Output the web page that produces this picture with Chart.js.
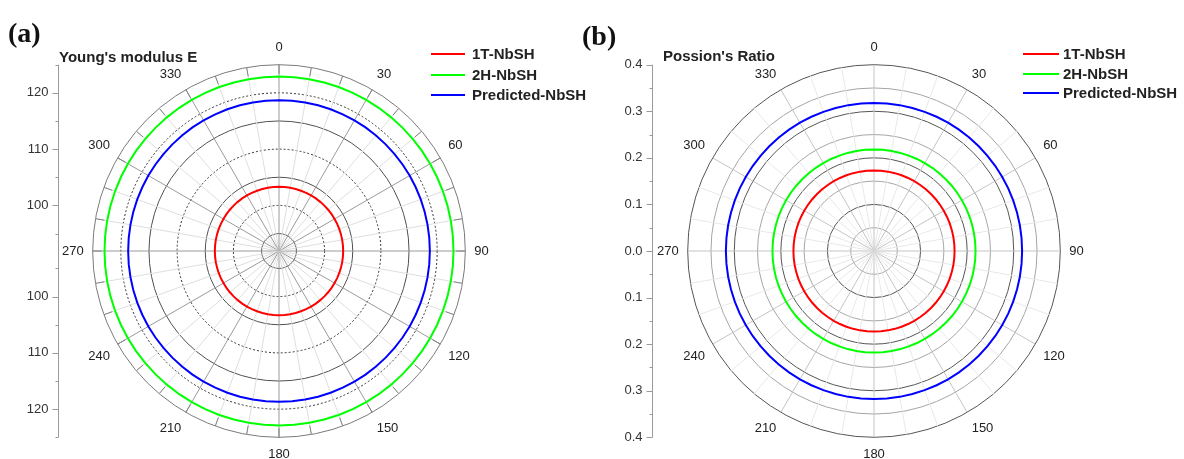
<!DOCTYPE html>
<html><head><meta charset="utf-8">
<script src="https://cdn.jsdelivr.net/npm/chart.js@4.4.1/dist/chart.umd.min.js"></script>
<style>
html,body{margin:0;padding:0;width:1184px;height:459px;overflow:hidden;background:#fff;font-family:"Liberation Sans",Arial,sans-serif;}
canvas{position:absolute;top:0;}
.panel{position:absolute;font-family:"Liberation Serif",serif;font-weight:bold;font-size:28px;line-height:28px;color:#111;}
.ttl{position:absolute;font-weight:bold;font-size:15px;line-height:18px;color:#222;white-space:nowrap;}
.leg{position:absolute;font-weight:bold;font-size:15px;color:#222;}
.leg .row{position:absolute;left:0;height:20px;line-height:20px;white-space:nowrap;}
.leg .ln{position:absolute;left:0;top:9px;height:2px;}
.leg .tx{position:absolute;top:0;}
</style></head>
<body>
<canvas id="cA" width="580" height="480" style="left:0px"></canvas>
<canvas id="cB" width="594" height="480" style="left:590px"></canvas>
<div class="panel" style="left:8px;top:19px">(a)</div>
<div class="panel" style="left:582px;top:22px">(b)</div>
<div class="ttl" style="left:59px;top:48px">Young's modulus E</div>
<div class="ttl" style="left:663px;top:47px">Possion's Ratio</div>
<div class="leg" id="legA" style="left:431px;top:44px"></div>
<div class="leg" id="legB" style="left:1023px;top:44px"></div>
<script>
// ---------- data ----------
const angleCategories = Array.from({length: 72}, (_, i) => i * 5);   // polar angle categories (deg)
const seriesNames  = ['1T-NbSH', '2H-NbSH', 'Predicted-NbSH'];
const seriesColors = ['#ff0000', '#00ff00', '#0000ff'];
const youngsModulus = [103.3, 122.9, 118.7];      // isotropic E (radius of each circle)
const poissonRatio  = [0.173, 0.218, 0.318];      // isotropic nu
const youngRange   = [91.9, 125];
const poissonRange = [0, 0.4];
const youngGrid    = [91.9, 95, 100, 105, 110, 115, 120, 125];
const poissonGrid  = [0, 0.05, 0.1, 0.15, 0.2, 0.25, 0.3, 0.35, 0.4];
const youngAxisMajor   = [100, 110, 120];
const youngAxisMinor   = [95, 105, 115, 125];
const poissonAxisMajor = [0, 0.1, 0.2, 0.3, 0.4];
const poissonAxisMinor = [0.05, 0.15, 0.25, 0.35];

const FONT = '"Liberation Sans", Arial, sans-serif';

const sideAxis = {
  id: 'sideAxis',
  afterDraw(chart, args, o) {
    const s = chart.scales.r, ctx = chart.ctx;
    const cy = s.yCenter, R = s.drawingArea;
    ctx.save();
    // inward ticks on the outer ring
    if (o.ringTickLen > 0) {
      ctx.strokeStyle = o.ringTickColor; ctx.lineWidth = 1;
      chart.data.labels.forEach((a, i) => {
        if (a % 10 !== 0) return;
        const p1 = s.getPointPosition(i, R), p2 = s.getPointPosition(i, R - o.ringTickLen);
        ctx.beginPath(); ctx.moveTo(p1.x, p1.y); ctx.lineTo(p2.x, p2.y); ctx.stroke();
      });
    }
    // vertical mirrored axis
    const x = o.x + 0.5;
    ctx.strokeStyle = o.color; ctx.lineWidth = 1;
    ctx.beginPath(); ctx.moveTo(x, cy - R); ctx.lineTo(x, cy + R); ctx.stroke();
    ctx.fillStyle = o.labelColor;
    ctx.font = o.fontSize + 'px ' + FONT;
    ctx.textAlign = 'right'; ctx.textBaseline = 'middle';
    const ys = d => d === 0 ? [cy] : [cy - d, cy + d];
    o.major.forEach(v => {
      const d = s.getDistanceFromCenterForValue(v);
      ys(d).forEach(y => {
        ctx.beginPath(); ctx.moveTo(x - o.majorLen, Math.round(y) + 0.5); ctx.lineTo(x, Math.round(y) + 0.5); ctx.stroke();
        ctx.fillText(v.toFixed(o.decimals), x - o.majorLen - 4, y);
      });
    });
    o.minor.forEach(v => {
      const d = s.getDistanceFromCenterForValue(v);
      ys(d).forEach(y => {
        ctx.beginPath(); ctx.moveTo(x - o.minorLen, Math.round(y) + 0.5); ctx.lineTo(x, Math.round(y) + 0.5); ctx.stroke();
      });
    });
    ctx.restore();
  }
};

function makeDatasets(values) {
  return values.map((v, k) => ({
    label: seriesNames[k],
    data: angleCategories.map(() => v),
    borderColor: seriesColors[k],
    backgroundColor: seriesColors[k],
    borderWidth: 2,
    fill: false,
    pointRadius: 0,
    pointHoverRadius: 0,
    tension: 0
  }));
}

function makeChart(id, values, range, gridVals, gridColor, gridDash, spokeMajor, spokeMinor, pad, axisOpts) {
  return new Chart(document.getElementById(id), {
    type: 'radar',
    data: { labels: angleCategories, datasets: makeDatasets(values) },
    plugins: [sideAxis],
    options: {
      responsive: false,
      animation: false,
      events: [],
      layout: { padding: pad },
      plugins: { legend: { display: false }, tooltip: { enabled: false }, sideAxis: axisOpts },
      scales: {
        r: {
          min: range[0], max: range[1],
          startAngle: 0,
          afterBuildTicks: (sc) => { sc.ticks = gridVals.map(v => ({ value: v })); },
          ticks: { display: false },
          grid: { circular: true, color: (c) => gridColor(c.tick.value), lineWidth: 1 },
          border: { dash: (c) => gridDash(c.tick.value) },
          angleLines: {
            color: (c) => (angleCategories[c.index] % 30 === 0 ? spokeMajor : spokeMinor),
            lineWidth: (c) => (angleCategories[c.index] % 10 === 0 ? 1 : 0)
          },
          pointLabels: {
            padding: 9,
            color: '#222',
            font: { family: FONT, size: 13 },
            callback: (lab) => (Number(lab) % 30 === 0 ? String(lab) : '')
          }
        }
      }
    }
  });
}

const near = (a, b) => Math.abs(a - b) < 1e-6;

makeChart('cA', youngsModulus, youngRange, youngGrid,
  v => near(v, 125) ? '#7a7a7a' : ([100, 110, 120].some(t => near(t, v)) ? '#333' : '#505050'),
  v => ([100, 110, 120].some(t => near(t, v)) ? [2, 2] : []),
  '#9a9a9a', '#dedede',
  { left: 59, right: 87, top: 35, bottom: 11 },
  { x: 58, color: '#9a9a9a', labelColor: '#333', fontSize: 13, majorLen: 6, minorLen: 3,
    major: youngAxisMajor, minor: youngAxisMinor, decimals: 0, ringTickColor: '#808080', ringTickLen: 9 });

makeChart('cB', poissonRatio, poissonRange, poissonGrid,
  v => ([0.1, 0.2, 0.3, 0.4].some(t => near(t, v)) ? '#555' : '#a5a5a5'),
  v => [],
  '#c4c4c4', '#e8e8e8',
  { left: 64, right: 96, top: 35, bottom: 11 },
  { x: 62, color: '#9a9a9a', labelColor: '#333', fontSize: 13, majorLen: 6, minorLen: 3,
    major: poissonAxisMajor, minor: poissonAxisMinor, decimals: 1, ringTickColor: '#888', ringTickLen: 0 });

// legends built from the series arrays
function buildLegend(id, lineLen, gap, rowStep) {
  const el = document.getElementById(id);
  seriesNames.forEach((n, k) => {
    const row = document.createElement('div');
    row.className = 'row';
    row.style.top = (k * rowStep) + 'px';
    row.innerHTML = '<span class="ln" style="width:' + lineLen + 'px;background:' + seriesColors[k] + '"></span>' +
      '<span class="tx" style="left:' + (lineLen + gap) + 'px">' + n + '</span>';
    el.appendChild(row);
  });
}
buildLegend('legA', 34, 7, 20.7);
buildLegend('legB', 36, 4, 19.7);
</script>
</body></html>
